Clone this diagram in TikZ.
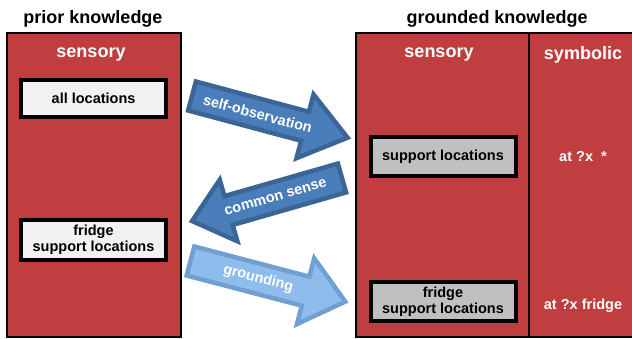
\documentclass[tikz,border=0pt]{standalone}
\usepackage{fontspec}
\setmainfont{Liberation Sans}
\definecolor{panelred}{HTML}{C03E40}
\definecolor{boxlight}{HTML}{F1F1F4}
\definecolor{boxgray}{HTML}{C0C0C0}
\definecolor{darkrim}{HTML}{3B6595}
\definecolor{darkfill}{HTML}{4A7EBB}
\definecolor{lightrim}{HTML}{70A0D2}
\definecolor{lightfill}{HTML}{8EBCEC}
\tikzset{
  panel/.style={draw=black, line width=2pt, fill=panelred, inner sep=0pt},
  heading/.style={font=\fontsize{18}{20}\selectfont\bfseries, text=black},
  colhead/.style={font=\fontsize{18}{20}\selectfont\bfseries, text=white},
  itembox/.style={draw=black, line width=4pt, inner sep=0pt, align=center,
    minimum width=145pt, font=\fontsize{14.5}{16}\selectfont\bfseries},
  symtext/.style={font=\fontsize{14.5}{16}\selectfont\bfseries, text=white},
  arrowtext/.style={font=\fontsize{14.5}{16}\selectfont\bfseries, text=white, transform shape},
  darkarrow/.style={draw=darkrim, fill=darkfill, line width=4.5pt},
  lightarrow/.style={draw=lightrim, fill=lightfill, line width=4.5pt},
}
% block arrow: #1 length, #2 head length, #3 half head width, #4 half shaft width
\newcommand{\blockarrow}[4]{(0,#4) -- ({#1-#2},#4) -- ({#1-#2},#3) -- (#1,0) --
  ({#1-#2},-#3) -- ({#1-#2},-#4) -- (0,-#4) -- cycle}
\begin{document}
\begin{tikzpicture}[x=1pt,y=1pt]
\useasboundingbox (0,0) rectangle (632,-339);

% panels
\node[panel, minimum width=174pt, minimum height=304pt] (prior) at (94,-185) {};
\node[panel, minimum width=278pt, minimum height=304pt] (grounded) at (495,-185) {};
\coordinate (divtop) at (529,-33);
\coordinate (divbot) at (529,-337);
\draw[line width=2pt] (divtop) -- (divbot);

% headings
\node[heading] (priortitle) at (93,-19) {prior knowledge};
\node[heading] (groundtitle) at (497,-19) {grounded knowledge};
\node[colhead] (lsens) at (91,-55) {sensory};
\node[colhead] (rsens) at (439,-55) {sensory};
\node[colhead] (rsym) at (583,-55) {symbolic};

% knowledge items
\node[itembox, fill=boxlight, minimum height=37pt] (allloc) at (93.6,-98.4) {all locations};
\node[itembox, fill=boxlight, minimum height=40pt] (lfridge) at (93.5,-240) {fridge\\support locations};
\node[itembox, fill=boxgray, minimum height=39pt] (rsupp) at (443,-156.5) {support locations};
\node[itembox, fill=boxgray, minimum height=39pt] (rfridge) at (443,-301.5) {fridge\\support locations};
\node[symtext] (symany) at (583,-157) {at ?x\ \ *};
\node[symtext] (symfridge) at (583,-306) {at ?x fridge};

% transfer arrows
\begin{scope}[shift={(192,-96)}, rotate=-15]
  \path[darkarrow] \blockarrow{161}{44}{33}{15};
  \node[arrowtext] (selfobs) at (68,0) {self-observation};
\end{scope}
\begin{scope}[shift={(342,-178)}, rotate=196]
  \path[darkarrow] \blockarrow{156}{38}{32}{15};
  \node[arrowtext, rotate=180] (common) at (69,0) {common sense};
\end{scope}
\begin{scope}[shift={(190.5,-261)}, rotate=-14.7]
  \path[lightarrow] \blockarrow{160}{41}{34}{15};
  \node[arrowtext] (ground) at (70,0) {grounding};
\end{scope}
\end{tikzpicture}
\end{document}
